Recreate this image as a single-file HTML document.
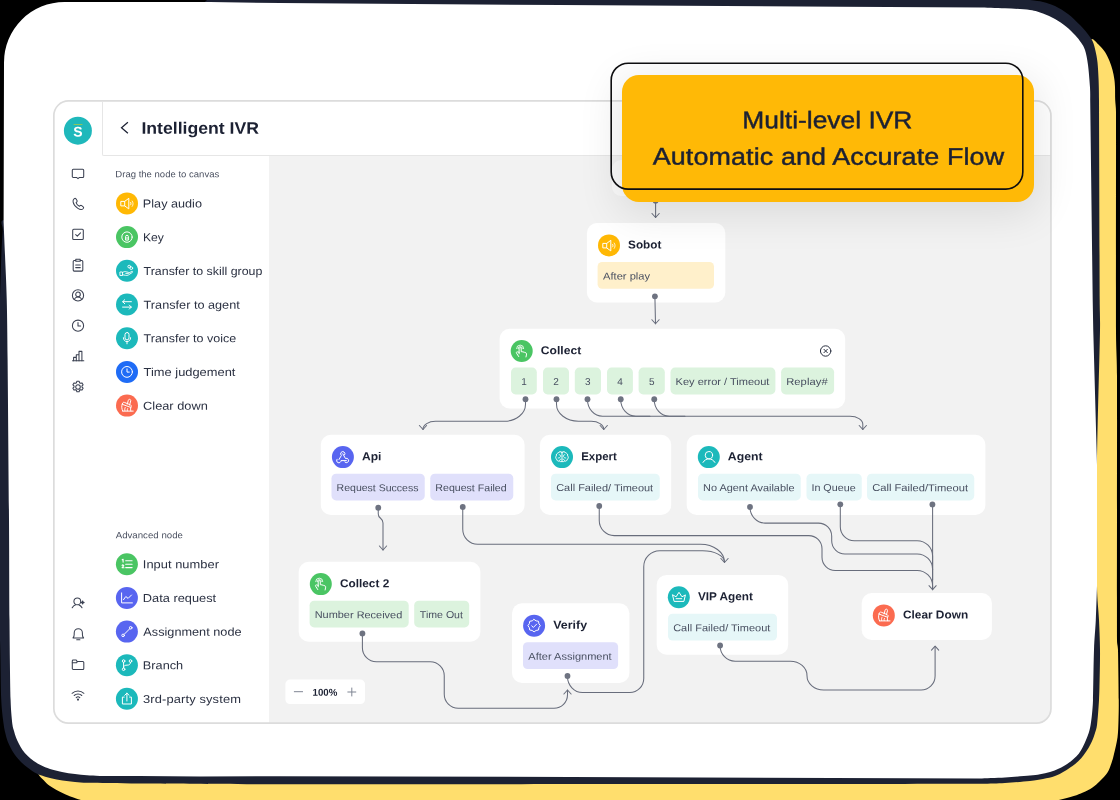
<!DOCTYPE html><html><head><meta charset="utf-8"><title>Intelligent IVR</title><style>html,body{margin:0;padding:0}body{width:1120px;height:800px;background:#000;position:relative;overflow:hidden;font-family:"Liberation Sans",sans-serif}.abs{position:absolute}.node{position:absolute;background:#fff;border-radius:9px}.chip{position:absolute;border-radius:4.500px}.ic{position:absolute;border-radius:50%}</style></head><body><div id="root" style="position:absolute;left:0;top:0;width:1120px;height:800px;will-change:transform">
<svg style="position:absolute;left:0;top:0" width="1120" height="800" viewBox="0 0 1120 800"><path d="M1089 45 C1089.10 41.98 1090.42 39.08 1092 39 C1093.58 38.92 1096.33 42.33 1098.5 44.5 C1100.67 46.67 1103.17 49.25 1105 52 C1106.83 54.75 1108.25 58.00 1109.5 61 C1110.75 64.00 1111.70 67.00 1112.5 70 C1113.30 73.00 1113.88 76.17 1114.3 79 C1114.72 81.83 1114.85 83.50 1115 87 C1115.15 90.50 1115.03 95.83 1115.2 100 C1115.37 104.17 1115.98 106.59 1116 112 C1116.13 150.33 1115.83 286.00 1116 330 C1116.08 350.70 1116.93 355.30 1117 376 C1117.17 427.67 1116.83 594.33 1117 640 C1117.02 644.52 1117.87 645.48 1118 650 C1118.29 660.00 1118.67 688.33 1118.75 700 C1118.81 709.00 1118.71 713.75 1118.5 720 C1118.29 726.25 1118.25 731.83 1117.5 737.5 C1116.75 743.17 1115.00 749.75 1114 754 C1113.04 758.09 1112.58 759.92 1111.5 763 C1110.42 766.08 1109.42 769.50 1107.5 772.5 C1105.58 775.50 1102.50 778.50 1100 781 C1097.50 783.50 1095.33 785.58 1092.5 787.5 C1089.67 789.42 1086.12 791.08 1083 792.5 C1079.88 793.92 1077.79 794.75 1073.75 796 C1069.71 797.25 1064.38 798.83 1058.75 800 C1053.12 801.17 1048.54 802.97 1040 803 C880.21 803.50 259.83 803.50 100 803 C91.34 802.97 85.67 801.00 81 800 C76.83 799.11 75.08 798.17 72 797 C68.92 795.83 66.17 794.83 62.5 793 C58.83 791.17 53.17 788.17 50 786 C46.83 783.83 45.38 781.88 43.5 780 C41.62 778.12 40.00 777.25 38.75 774.75 C37.50 772.25 31.86 766.92 36 765 C62.88 752.54 120.79 705.34 200 700 C360.67 689.17 853.33 750.00 1000 700 C1132.24 654.92 1065.17 509.17 1080 400 C1094.83 290.83 1087.00 105.17 1089 45 Z" fill="#ffde6d"/><path d="M3.4 220 C7.93 218.67 21.26 230.23 30 222 C63.60 190.33 175.83 66.67 205 30 C212.84 20.14 201.67 7.00 205 2 C208.33 -3.00 215.97 0.48 225 0 C240.83 -0.83 266.22 -2.87 300 -3 C429.17 -3.50 878.33 -3.50 1000 -3 C1013.57 -2.94 1022.83 -0.83 1030 0 C1035.88 0.68 1038.83 1.00 1043 2 C1047.17 3.00 1050.83 4.00 1055 6 C1059.17 8.00 1063.83 10.83 1068 14 C1072.17 17.17 1076.83 21.83 1080 25 C1083.17 28.17 1084.92 30.33 1087 33 C1089.08 35.67 1091.08 38.00 1092.5 41 C1093.92 44.00 1094.67 47.42 1095.5 51 C1096.33 54.58 1096.98 57.67 1097.5 62.5 C1098.02 67.33 1098.35 73.75 1098.6 80 C1098.85 86.25 1098.95 91.00 1099 100 C1099.18 136.67 1099.53 261.67 1099.7 300 C1099.76 313.50 1100.22 316.50 1100 330 C1099.55 357.50 1097.50 422.33 1097 465 C1096.50 507.67 1096.67 560.17 1097 586 C1097.20 601.33 1098.50 609.33 1099 620 C1099.50 630.67 1099.90 640.00 1100 650 C1100.10 660.00 1099.77 671.67 1099.6 680 C1099.43 688.33 1099.43 692.50 1099 700 C1098.57 707.50 1097.67 719.50 1097 725 C1096.55 728.68 1095.75 730.50 1095 733 C1094.25 735.50 1093.58 737.50 1092.5 740 C1091.42 742.50 1089.96 745.50 1088.5 748 C1087.04 750.50 1085.42 752.83 1083.75 755 C1082.08 757.17 1080.38 759.17 1078.5 761 C1076.62 762.83 1074.92 764.25 1072.5 766 C1070.08 767.75 1066.92 769.83 1064 771.5 C1061.08 773.17 1058.50 774.75 1055 776 C1051.50 777.25 1047.17 778.17 1043 779 C1038.83 779.83 1035.89 780.38 1030 781 C1023.67 781.67 1013.33 782.54 1005 783 C996.67 783.46 991.26 783.71 980 783.75 C929.17 783.92 816.67 783.92 700 784 C583.33 784.08 373.33 784.28 280 784.2 C217.00 784.14 172.08 783.74 140 783.5 C116.37 783.32 98.33 783.00 87.5 782.75 C81.87 782.62 79.17 782.36 75 782 C70.83 781.64 66.50 781.22 62.5 780.6 C58.50 779.98 54.75 779.23 51 778.3 C47.25 777.37 43.00 776.13 40 775 C37.00 773.87 35.08 772.75 33 771.5 C30.92 770.25 29.50 769.08 27.5 767.5 C25.50 765.92 23.08 764.08 21 762 C18.92 759.92 16.67 757.25 15 755 C13.33 752.75 12.25 750.83 11 748.5 C9.75 746.17 8.45 743.58 7.5 741 C6.55 738.42 5.92 735.67 5.3 733 C4.67 730.33 4.20 728.64 3.75 725 C3.08 719.50 1.77 711.29 1.25 700 C0.67 687.50 0.68 666.67 0.3 650 C-0.08 633.33 -0.91 622.51 -1 600 C-1.22 546.67 -1.17 380.00 -1 330 C-0.95 316.49 -0.33 310.83 0 300 C0.33 289.17 0.70 274.17 1 265 C1.29 256.00 1.50 250.83 1.8 245 C2.10 239.17 2.53 234.17 2.8 230 C3.07 225.83 -0.92 221.27 3.4 220 Z" fill="#1c2133"/><path d="M4 62.500 A60.500 60.500 0 0 1 64.500 2 L210 2 L280 3 L560 5 L840 6.75 L980 7.5  C984.17 7.63 996.67 7.88 1005 8.3 C1013.33 8.72 1023.67 9.13 1030 10 C1036.00 10.82 1038.83 12.00 1043 13.5 C1047.17 15.00 1051.17 16.83 1055 19 C1058.83 21.17 1062.67 23.83 1066 26.5 C1069.33 29.17 1072.50 32.33 1075 35 C1077.50 37.67 1079.33 40.00 1081 42.5 C1082.67 45.00 1083.86 46.35 1085 50 C1086.17 53.75 1087.17 58.75 1088 65 C1088.83 71.25 1089.63 81.67 1090 87.5 C1090.35 93.11 1090.17 97.92 1090.2 100 L1092.7 300 L1093.25 330 L1097 465 L1097 586  C1096.80 591.67 1096.30 609.33 1095.8 620 C1095.30 630.67 1094.47 636.67 1094 650 C1093.53 663.33 1093.33 689.33 1093 700 C1092.80 706.31 1092.40 709.83 1092 714 C1091.60 718.17 1091.15 721.83 1090.6 725 C1090.05 728.17 1089.47 730.50 1088.7 733 C1087.93 735.50 1086.98 737.67 1086 740 C1085.02 742.33 1084.01 744.71 1082.8 747 C1081.59 749.29 1080.30 751.75 1078.75 753.75 C1077.20 755.75 1075.38 757.33 1073.5 759 C1071.62 760.67 1069.92 762.17 1067.5 763.75 C1065.08 765.33 1061.92 767.12 1059 768.5 C1056.08 769.88 1053.17 771.05 1050 772 C1046.83 772.95 1043.33 773.60 1040 774.2 C1036.67 774.80 1034.52 775.17 1030 775.6 C1024.17 776.15 1013.33 777.02 1005 777.5 C996.67 777.98 984.17 778.33 980 778.5 L700 777.4 L280 776.2 L200 776.5 L140 776  C133.33 776.00 108.83 776.12 100 776 C94.14 775.92 91.17 775.63 87 775.3 C82.83 774.97 79.17 774.57 75 774 C70.83 773.43 66.17 772.73 62 771.9 C57.83 771.07 53.50 770.10 50 769 C46.50 767.90 43.71 766.63 41 765.3 C38.29 763.97 36.00 762.58 33.75 761 C31.50 759.42 29.38 757.63 27.5 755.8 C25.62 753.97 23.92 751.97 22.5 750 C21.08 748.03 20.08 746.08 19 744 C17.92 741.92 16.83 739.67 16 737.5 C15.17 735.33 14.58 733.08 14 731 C13.42 728.92 12.80 727.77 12.5 725 C11.93 719.83 10.92 711.28 10.6 700 C10.10 682.50 9.77 650.00 9.5 620 C9.23 590.00 9.32 563.33 9 520 C8.68 476.67 7.97 396.67 7.6 360 C7.32 333.00 7.18 317.50 6.75 300 C6.32 282.50 5.53 268.00 5 255 C4.47 242.00 3.83 227.50 3.6 222 Z" fill="#fff"/></svg>
<div class="abs" style="left:53px;top:100.100px;width:998.800px;height:623.900px;border-radius:15.500px;background:#fff"></div>
<div class="abs" style="left:268.750px;top:155.500px;width:782.500px;height:568px;background:#f2f2f2;border-bottom-right-radius:15px"></div>
<div class="abs" style="left:102.200px;top:101.500px;width:948px;height:53.500px;border-left:1px solid #e6e6e6;border-bottom:1px solid #e6e6e6;border-bottom-left-radius:2px;background:#fff"></div>
<svg class="abs" style="left:0;top:0" width="200" height="200"><circle cx="77.900" cy="130.650" r="14" fill="#1fb8bb"/><rect x="73.600" y="124.100" width="8.800" height=".8" fill="#a9c845"/></svg>
<div style="position:absolute;left:73px;top:123px;font-size:14px;line-height:16.8px;font-weight:700;color:#fff;letter-spacing:0.000px;white-space:pre;transform:translate(0.37px,0.59px) scaleX(1.0000) rotate(0.03deg);transform-origin:0 50%">S</div>

<div style="position:absolute;left:141px;top:118px;font-size:16.6px;line-height:19.92px;font-weight:700;color:#1c2133;letter-spacing:0.000px;white-space:pre;transform:translate(0.38px,0.73px) scaleX(1.0636) rotate(0.03deg);transform-origin:0 50%">Intelligent IVR</div>












<div style="position:absolute;left:115px;top:169px;font-size:9.2px;line-height:11.04px;font-weight:400;color:#4a5060;letter-spacing:0.000px;white-space:pre;transform:translate(0.35px,0.31px) scaleX(1.0377) rotate(0.03deg);transform-origin:0 50%">Drag the node to canvas</div>

<div style="position:absolute;left:142px;top:197px;font-size:11.5px;line-height:13.8px;font-weight:400;color:#2b3142;letter-spacing:0.000px;white-space:pre;transform:translate(0.87px,0.53px) scaleX(1.1006) rotate(0.03deg);transform-origin:0 50%">Play audio</div>

<div style="position:absolute;left:142px;top:231px;font-size:11.5px;line-height:13.8px;font-weight:400;color:#2b3142;letter-spacing:0.000px;white-space:pre;transform:translate(0.91px,0.23px) scaleX(1.0553) rotate(0.03deg);transform-origin:0 50%">Key</div>

<div style="position:absolute;left:143px;top:264px;font-size:11.5px;line-height:13.8px;font-weight:400;color:#2b3142;letter-spacing:0.000px;white-space:pre;transform:translate(0.59px,0.93px) scaleX(1.0783) rotate(0.03deg);transform-origin:0 50%">Transfer to skill group</div>

<div style="position:absolute;left:143px;top:298px;font-size:11.5px;line-height:13.8px;font-weight:400;color:#2b3142;letter-spacing:0.000px;white-space:pre;transform:translate(0.58px,0.63px) scaleX(1.1036) rotate(0.03deg);transform-origin:0 50%">Transfer to agent</div>

<div style="position:absolute;left:143px;top:332px;font-size:11.5px;line-height:13.8px;font-weight:400;color:#2b3142;letter-spacing:0.000px;white-space:pre;transform:translate(0.59px,0.33px) scaleX(1.0861) rotate(0.03deg);transform-origin:0 50%">Transfer to voice</div>

<div style="position:absolute;left:143px;top:366px;font-size:11.5px;line-height:13.8px;font-weight:400;color:#2b3142;letter-spacing:0.000px;white-space:pre;transform:translate(0.58px,0.03px) scaleX(1.1193) rotate(0.03deg);transform-origin:0 50%">Time judgement</div>

<div style="position:absolute;left:143px;top:399px;font-size:11.5px;line-height:13.8px;font-weight:400;color:#2b3142;letter-spacing:0.000px;white-space:pre;transform:translate(0.05px,0.73px) scaleX(1.1124) rotate(0.03deg);transform-origin:0 50%">Clear down</div>
<div style="position:absolute;left:115px;top:530px;font-size:9.2px;line-height:11.04px;font-weight:400;color:#4a5060;letter-spacing:0.000px;white-space:pre;transform:translate(0.68px,0.31px) scaleX(1.0528) rotate(0.03deg);transform-origin:0 50%">Advanced node</div>

<div style="position:absolute;left:142px;top:558px;font-size:11.5px;line-height:13.8px;font-weight:400;color:#2b3142;letter-spacing:0.026px;white-space:pre;transform:translate(0.78px,0.33px) scaleX(1.1200) rotate(0.03deg);transform-origin:0 50%">Input number</div>

<div style="position:absolute;left:142px;top:592px;font-size:11.5px;line-height:13.8px;font-weight:400;color:#2b3142;letter-spacing:0.000px;white-space:pre;transform:translate(0.85px,0.03px) scaleX(1.1137) rotate(0.03deg);transform-origin:0 50%">Data request</div>

<div style="position:absolute;left:143px;top:625px;font-size:11.5px;line-height:13.8px;font-weight:400;color:#2b3142;letter-spacing:0.000px;white-space:pre;transform:translate(0.29px,0.73px) scaleX(1.1058) rotate(0.03deg);transform-origin:0 50%">Assignment node</div>

<div style="position:absolute;left:142px;top:659px;font-size:11.5px;line-height:13.8px;font-weight:400;color:#2b3142;letter-spacing:0.000px;white-space:pre;transform:translate(0.86px,0.28px) scaleX(1.1066) rotate(0.03deg);transform-origin:0 50%">Branch</div>

<div style="position:absolute;left:143px;top:692px;font-size:11.5px;line-height:13.8px;font-weight:400;color:#2b3142;letter-spacing:0.115px;white-space:pre;transform:translate(0.07px,0.93px) scaleX(1.1200) rotate(0.03deg);transform-origin:0 50%">3rd-party system</div>
<svg class="abs" style="left:0;top:0" width="1120" height="800" viewBox="0 0 1120 800"><rect x="612" y="160" width="90" height="36" rx="9" fill="#fafafa"/><rect x="586.9" y="223.1" width="138.4" height="79.4" rx="10" fill="#fff"/><rect x="597.6" y="261.95" width="116.4" height="26.800" rx="4.600" fill="#fff0cb"/><rect x="499.6" y="328.75" width="345.55" height="79.65" rx="10" fill="#fff"/><rect x="511" y="367.6" width="25.8" height="26.800" rx="4.600" fill="#dcf3de"/><rect x="543" y="367.6" width="26" height="26.800" rx="4.600" fill="#dcf3de"/><rect x="574.8" y="367.6" width="26.2" height="26.800" rx="4.600" fill="#dcf3de"/><rect x="607" y="367.6" width="25.9" height="26.800" rx="4.600" fill="#dcf3de"/><rect x="638.6" y="367.6" width="26.2" height="26.800" rx="4.600" fill="#dcf3de"/><rect x="670.5" y="367.6" width="104.9" height="26.800" rx="4.600" fill="#dcf3de"/><rect x="781.1" y="367.6" width="53" height="26.800" rx="4.600" fill="#dcf3de"/><rect x="320.8" y="434.8" width="203.8" height="80.1" rx="10" fill="#fff"/><rect x="331.5" y="473.65" width="93.25" height="26.800" rx="4.600" fill="#e0e0fb"/><rect x="430.25" y="473.65" width="83" height="26.800" rx="4.600" fill="#e0e0fb"/><rect x="539.9" y="434.8" width="131.3" height="80.1" rx="10" fill="#fff"/><rect x="551" y="473.65" width="108.75" height="26.800" rx="4.600" fill="#e6f7f8"/><rect x="686.7" y="434.8" width="298.7" height="80.1" rx="10" fill="#fff"/><rect x="698" y="473.65" width="102.75" height="26.800" rx="4.600" fill="#e6f7f8"/><rect x="806.5" y="473.65" width="55.25" height="26.800" rx="4.600" fill="#e6f7f8"/><rect x="867" y="473.65" width="107.25" height="26.800" rx="4.600" fill="#e6f7f8"/><rect x="298.7" y="561.8" width="181.7" height="79.9" rx="10" fill="#fff"/><rect x="309.6" y="600.65" width="99.1" height="26.800" rx="4.600" fill="#dcf3de"/><rect x="414.2" y="600.65" width="55" height="26.800" rx="4.600" fill="#dcf3de"/><rect x="512" y="603.35" width="117.4" height="79.6" rx="10" fill="#fff"/><rect x="523" y="642.2" width="95.1" height="26.800" rx="4.600" fill="#e0e0fb"/><rect x="656.7" y="574.9" width="131.5" height="79.8" rx="10" fill="#fff"/><rect x="668" y="613.75" width="109" height="26.800" rx="4.600" fill="#e6f7f8"/><rect x="861.7" y="593.1" width="130.2" height="46.9" rx="10" fill="#fff"/><rect x="285.400" y="679.600" width="79.600" height="24.500" rx="4.500" fill="#fff"/></svg>

<div style="position:absolute;left:628px;top:238px;font-size:11.5px;line-height:13.8px;font-weight:700;color:#1c2133;letter-spacing:0.000px;white-space:pre;transform:translate(0.07px,0.51px) scaleX(1.0211) rotate(0.03deg);transform-origin:0 50%">Sobot</div>
<div style="position:absolute;left:603px;top:270px;font-size:10px;line-height:12.0px;font-weight:400;color:#484f60;letter-spacing:0.000px;white-space:pre;transform:translate(0.06px,0.41px) scaleX(1.1132) rotate(0.03deg);transform-origin:0 50%">After play</div>

<div style="position:absolute;left:540px;top:344px;font-size:11.5px;line-height:13.8px;font-weight:700;color:#1c2133;letter-spacing:0.000px;white-space:pre;transform:translate(0.83px,0.16px) scaleX(1.0529) rotate(0.03deg);transform-origin:0 50%">Collect</div>
<div style="position:absolute;left:521px;top:376px;font-size:10px;line-height:12.0px;font-weight:400;color:#484f60;letter-spacing:0.000px;white-space:pre;transform:translate(0.35px,0.06px) scaleX(1.0000) rotate(0.03deg);transform-origin:0 50%">1</div>
<div style="position:absolute;left:553px;top:376px;font-size:10px;line-height:12.0px;font-weight:400;color:#484f60;letter-spacing:0.000px;white-space:pre;transform:translate(0.14px,0.06px) scaleX(1.0000) rotate(0.03deg);transform-origin:0 50%">2</div>
<div style="position:absolute;left:585px;top:376px;font-size:10px;line-height:12.0px;font-weight:400;color:#484f60;letter-spacing:0.000px;white-space:pre;transform:translate(0.09px,0.06px) scaleX(1.0000) rotate(0.03deg);transform-origin:0 50%">3</div>
<div style="position:absolute;left:617px;top:376px;font-size:10px;line-height:12.0px;font-weight:400;color:#484f60;letter-spacing:0.000px;white-space:pre;transform:translate(0.17px,0.06px) scaleX(1.0000) rotate(0.03deg);transform-origin:0 50%">4</div>
<div style="position:absolute;left:648px;top:376px;font-size:10px;line-height:12.0px;font-weight:400;color:#484f60;letter-spacing:0.000px;white-space:pre;transform:translate(0.90px,0.06px) scaleX(1.0000) rotate(0.03deg);transform-origin:0 50%">5</div>
<div style="position:absolute;left:675px;top:376px;font-size:10px;line-height:12.0px;font-weight:400;color:#484f60;letter-spacing:0.000px;white-space:pre;transform:translate(0.55px,0.06px) scaleX(1.1041) rotate(0.03deg);transform-origin:0 50%">Key error / Timeout</div>
<div style="position:absolute;left:786px;top:376px;font-size:10px;line-height:12.0px;font-weight:400;color:#484f60;letter-spacing:0.069px;white-space:pre;transform:translate(0.13px,0.06px) scaleX(1.1200) rotate(0.03deg);transform-origin:0 50%">Replay#</div>

<div style="position:absolute;left:361px;top:450px;font-size:11.5px;line-height:13.8px;font-weight:700;color:#1c2133;letter-spacing:0.000px;white-space:pre;transform:translate(0.98px,0.21px) scaleX(1.0498) rotate(0.03deg);transform-origin:0 50%">Api</div>
<div style="position:absolute;left:336px;top:482px;font-size:10px;line-height:12.0px;font-weight:400;color:#484f60;letter-spacing:0.000px;white-space:pre;transform:translate(0.58px,0.11px) scaleX(1.0524) rotate(0.03deg);transform-origin:0 50%">Request Success</div>
<div style="position:absolute;left:435px;top:482px;font-size:10px;line-height:12.0px;font-weight:400;color:#484f60;letter-spacing:0.000px;white-space:pre;transform:translate(0.33px,0.11px) scaleX(1.0601) rotate(0.03deg);transform-origin:0 50%">Request Failed</div>

<div style="position:absolute;left:581px;top:450px;font-size:11.5px;line-height:13.8px;font-weight:700;color:#1c2133;letter-spacing:0.000px;white-space:pre;transform:translate(0.14px,0.21px) scaleX(0.9952) rotate(0.03deg);transform-origin:0 50%">Expert</div>
<div style="position:absolute;left:556px;top:482px;font-size:10px;line-height:12.0px;font-weight:400;color:#484f60;letter-spacing:0.000px;white-space:pre;transform:translate(0.18px,0.11px) scaleX(1.0971) rotate(0.03deg);transform-origin:0 50%">Call Failed/ Timeout</div>

<div style="position:absolute;left:727px;top:450px;font-size:11.5px;line-height:13.8px;font-weight:700;color:#1c2133;letter-spacing:0.000px;white-space:pre;transform:translate(0.86px,0.21px) scaleX(1.0663) rotate(0.03deg);transform-origin:0 50%">Agent</div>
<div style="position:absolute;left:703px;top:482px;font-size:10px;line-height:12.0px;font-weight:400;color:#484f60;letter-spacing:0.000px;white-space:pre;transform:translate(0.07px,0.11px) scaleX(1.0914) rotate(0.03deg);transform-origin:0 50%">No Agent Available</div>
<div style="position:absolute;left:811px;top:482px;font-size:10px;line-height:12.0px;font-weight:400;color:#484f60;letter-spacing:0.000px;white-space:pre;transform:translate(0.40px,0.11px) scaleX(1.0748) rotate(0.03deg);transform-origin:0 50%">In Queue</div>
<div style="position:absolute;left:872px;top:482px;font-size:10px;line-height:12.0px;font-weight:400;color:#484f60;letter-spacing:0.000px;white-space:pre;transform:translate(0.16px,0.11px) scaleX(1.1177) rotate(0.03deg);transform-origin:0 50%">Call Failed/Timeout</div>

<div style="position:absolute;left:339px;top:577px;font-size:11.5px;line-height:13.8px;font-weight:700;color:#1c2133;letter-spacing:0.000px;white-space:pre;transform:translate(0.95px,0.21px) scaleX(1.0285) rotate(0.03deg);transform-origin:0 50%">Collect 2</div>
<div style="position:absolute;left:314px;top:609px;font-size:10px;line-height:12.0px;font-weight:400;color:#484f60;letter-spacing:0.000px;white-space:pre;transform:translate(0.67px,0.11px) scaleX(1.0942) rotate(0.03deg);transform-origin:0 50%">Number Received</div>
<div style="position:absolute;left:419px;top:609px;font-size:10px;line-height:12.0px;font-weight:400;color:#484f60;letter-spacing:0.000px;white-space:pre;transform:translate(0.86px,0.11px) scaleX(1.0568) rotate(0.03deg);transform-origin:0 50%">Time Out</div>

<div style="position:absolute;left:553px;top:618px;font-size:11.5px;line-height:13.8px;font-weight:700;color:#1c2133;letter-spacing:-0.000px;white-space:pre;transform:translate(0.24px,0.76px) scaleX(1.0811) rotate(0.03deg);transform-origin:0 50%">Verify</div>
<div style="position:absolute;left:528px;top:650px;font-size:10px;line-height:12.0px;font-weight:400;color:#484f60;letter-spacing:0.000px;white-space:pre;transform:translate(0.36px,0.66px) scaleX(1.1023) rotate(0.03deg);transform-origin:0 50%">After Assignment</div>

<div style="position:absolute;left:697px;top:590px;font-size:11.5px;line-height:13.8px;font-weight:700;color:#1c2133;letter-spacing:0.000px;white-space:pre;transform:translate(0.98px,0.31px) scaleX(1.0239) rotate(0.03deg);transform-origin:0 50%">VIP Agent</div>
<div style="position:absolute;left:673px;top:622px;font-size:10px;line-height:12.0px;font-weight:400;color:#484f60;letter-spacing:0.000px;white-space:pre;transform:translate(0.18px,0.21px) scaleX(1.1000) rotate(0.03deg);transform-origin:0 50%">Call Failed/ Timeout</div>

<div style="position:absolute;left:902px;top:608px;font-size:11.5px;line-height:13.8px;font-weight:700;color:#1c2133;letter-spacing:0.000px;white-space:pre;transform:translate(0.94px,0.51px) scaleX(1.0304) rotate(0.03deg);transform-origin:0 50%">Clear Down</div>



<div style="position:absolute;left:312px;top:686px;font-size:10px;line-height:12.0px;font-weight:700;color:#1c2133;letter-spacing:0.000px;white-space:pre;transform:translate(0.57px,0.84px) scaleX(0.9678) rotate(0.03deg);transform-origin:0 50%">100%</div>
<svg class="abs" style="left:0;top:0" width="1120" height="800" viewBox="0 0 1120 800"><g fill="none" stroke="#686d7c" stroke-width="1.050" stroke-linecap="round" stroke-linejoin="round"><path d="M655.600 200 V217.500"/><path d="M652 213.5 L655.6 217.5 L659.2 213.5"/><path d="M654.900 296.300 L655.500 323.700"/><path d="M651.9 319.75 L655.5 323.75 L659.1 319.75"/><path d="M525.5 399.25 L525.5 404.25 A21 17 0 0 1 504.5 421.25 L435.5 421.25 A12.5 8 0 0 0 423 429.25 L423 429.5"/><path d="M419.4 425.5 L423 429.5 L426.6 425.5"/><path d="M556.5 399.25 L556.5 404.25 A22 17 0 0 0 578.5 421.25 L591.25 421.25 A12.5 8 0 0 1 603.75 429.25 L603.75 429.5"/><path d="M600.15 425.5 L603.75 429.5 L607.35 425.5"/><path d="M587.5 399.25 L587.5 399.8 A15 16.5 0 0 0 602.5 416.3 L850 416.3 A12.8 8 0 0 1 862.8 424.3 L862.8 429.5"/><path d="M859.2 425.5 L862.8 429.5 L866.4 425.5"/><path d="M620.75 399.25 L620.75 399.8 A15 16.5 0 0 0 635.75 416.3 L650 416.3"/><path d="M654.25 399.25 L654.25 399.8 A15 16.5 0 0 0 669.25 416.3 L685 416.3"/><path d="M378.250 508 V514 C378.250 519 383 517.500 383 523 V550"/><path d="M379.4 546 L383 550 L386.6 546"/><path d="M462.75 507 L462.75 529.25 A15 15 0 0 0 477.75 544.25 L700.5 544.25 A24 18 0 0 1 724.5 562.25 L724.5 562.5"/><path d="M720.9 558.5 L724.5 562.5 L728.1 558.5"/><path d="M567.5 676.25 L567.5 676.5 A15 16 0 0 0 582.5 692.5 L629.75 692.5 A14 14 0 0 0 643.75 678.5 L643.75 566.75 A16 16 0 0 1 659.75 550.75 L702.5 550.75 A22 11.5 0 0 1 724.5 562.25 L724.5 562.5"/><path d="M599.25 506 L599.25 520.6 A15 15 0 0 0 614.25 535.6 L808.8 535.6 A13.2 13.2 0 0 1 822 548.8 L822 557.2 A13.2 13.2 0 0 0 835.2 570.4 L917.1 570.4 A15.5 15.5 0 0 1 932.6 585.9 L932.6 589"/><path d="M750 507 L750 507.1 A15 16 0 0 0 765 523.1 L818.5 523.1 A13.2 13.2 0 0 1 831.7 536.3 L831.7 540.7 A13.2 13.2 0 0 0 844.9 553.9 L917.1 553.9 A15.5 15.5 0 0 1 932.6 569.4 L932.6 580"/><path d="M840.3 504.3 L840.3 526.7 A14 14 0 0 0 854.3 540.7 L917.1 540.7 A15.5 15.5 0 0 1 932.6 556.2 L932.6 570"/><path d="M932.600 504.300 V589.700"/><path d="M929 585.7 L932.6 589.7 L936.2 585.7"/><path d="M362.4 633.4 L362.4 647.75 A14 14 0 0 0 376.4 661.75 L430.25 661.75 A14 14 0 0 1 444.25 675.75 L444.25 694.25 A14 14 0 0 0 458.25 708.25 L554 708.25 A13.5 13.5 0 0 0 567.5 694.75 L567.5 690"/><path d="M563.9 694 L567.5 690 L571.1 694"/><path d="M720.1 645.5 L720.1 645.75 A15 15.5 0 0 0 735.1 661.25 L790.3 661.25 A16.7 14.375 0 0 1 807 675.625 L807 675.625 A16.7 14.375 0 0 0 823.7 690 L921.1 690 A14 14 0 0 0 935.1 676 L935.1 646.2"/><path d="M931.5 650.2 L935.1 646.2 L938.7 650.2"/></g><g fill="#6e7381"><circle cx="655.6" cy="200.7" r="2.900"/><circle cx="654.9" cy="296.3" r="2.900"/><circle cx="525.5" cy="399.25" r="2.900"/><circle cx="556.5" cy="399.25" r="2.900"/><circle cx="587.5" cy="399.25" r="2.900"/><circle cx="620.75" cy="399.25" r="2.900"/><circle cx="654.25" cy="399.25" r="2.900"/><circle cx="378.25" cy="507.75" r="2.900"/><circle cx="462.75" cy="507" r="2.900"/><circle cx="599.25" cy="506" r="2.900"/><circle cx="750" cy="507" r="2.900"/><circle cx="840.3" cy="504.3" r="2.900"/><circle cx="932.4" cy="504.4" r="2.900"/><circle cx="362.4" cy="633.4" r="2.900"/><circle cx="567.5" cy="676" r="2.900"/><circle cx="720.1" cy="645.5" r="2.900"/></g></svg>
<svg class="abs" style="left:0;top:0" width="1120" height="800" viewBox="0 0 1120 800"><g transform="translate(118 120)"><path d="M9.900 2.200L3.500 7.700l6.400 5.600" fill="none" stroke="#1c2133" stroke-width="1.250" stroke-linejoin="miter"/></g><g transform="translate(70 165.7)"><g fill="none" stroke="#3b4152" stroke-width="1.050" stroke-linecap="round" stroke-linejoin="round"><path d="M3.300 3.500h9.400c.6 0 1 .4 1 1v6.200c0 .6-.4 1-1 1H9.500L8 13l-1.500-1.300H3.300c-.6 0-1-.4-1-1V4.500c0-.6.400-1 1-1z"/></g></g><g transform="translate(70 196)"><g fill="none" stroke="#3b4152" stroke-width="1.050" stroke-linecap="round" stroke-linejoin="round"><path d="M4.300 2.600c.5-.4 1.200-.3 1.600.2l1.100 1.700c.3.500.2 1.100-.2 1.500l-.7.600c.4 1.300 1.700 2.900 3.300 3.700l.7-.6c.5-.4 1.100-.4 1.600 0l1.500 1.200c.5.400.5 1.100.1 1.600-1.300 1.400-3.400 1.200-5.400-.1C5.500 10.800 3.600 8.500 3.100 6 2.800 4.600 3.300 3.400 4.300 2.600z"/></g></g><g transform="translate(70 226.4)"><g fill="none" stroke="#3b4152" stroke-width="1.050" stroke-linecap="round" stroke-linejoin="round"><rect x="2.700" y="2.900" width="10.600" height="10.200" rx="1"/><path d="M5.700 8.200l1.600 1.500 3.200-3.200"/></g></g><g transform="translate(70 257)"><g fill="none" stroke="#3b4152" stroke-width="1.050" stroke-linecap="round" stroke-linejoin="round"><path d="M5.600 3.500H4.200c-.6 0-1 .4-1 1v8.600c0 .6.400 1 1 1h7.600c.6 0 1-.4 1-1V4.500c0-.6-.4-1-1-1h-1.400"/><path d="M5.800 2.300h4.400v2H5.800z"/><path d="M5.700 8h4.600M5.700 10.600h4.600"/></g></g><g transform="translate(70 287.4)"><g fill="none" stroke="#3b4152" stroke-width="1.050" stroke-linecap="round" stroke-linejoin="round"><circle cx="8" cy="8" r="5.600"/><circle cx="8" cy="7" r="2.300"/><path d="M4.200 12c.7-1.500 2.100-2.400 3.800-2.400s3.100.9 3.800 2.400"/></g></g><g transform="translate(70 317.7)"><g fill="none" stroke="#3b4152" stroke-width="1.050" stroke-linecap="round" stroke-linejoin="round"><circle cx="8" cy="8" r="5.600"/><path d="M8 4.900V8.300h2.600"/></g></g><g transform="translate(70 347.8)"><g fill="none" stroke="#3b4152" stroke-width="1.050" stroke-linecap="round" stroke-linejoin="round"><path d="M2.500 13h11.300"/><path d="M3.600 13V9.600h2.700V13M6.300 13V7h2.700v6M9 13V3.600h2.900V13"/></g></g><g transform="translate(70 379)"><g fill="none" stroke="#3b4152" stroke-width="1.050" stroke-linecap="round" stroke-linejoin="round"><circle cx="8" cy="8" r="2.300"/><path d="M6.900 2.200h2.200l.4 1.500 1 .6 1.500-.4 1.100 1.900-1.100 1.100v1.200l1.100 1.100-1.100 1.900-1.500-.4-1 .6-.4 1.500H6.900l-.4-1.500-1-.6-1.500.4-1.100-1.900L4 8.100V6.900L2.900 5.800 4 3.900l1.500.4 1-.6z"/></g></g><g transform="translate(70 595)"><g fill="none" stroke="#3b4152" stroke-width="1.050" stroke-linecap="round" stroke-linejoin="round"><circle cx="7.300" cy="6.400" r="3.400"/><path d="M2.200 12.800c.8-1.600 2.300-2.700 3.500-3M12 12.800c-.7-1.500-2-2.600-3.100-2.900"/><path d="M12.600 6.200v2.600M11.300 7.500h2.600" stroke-width="1.500"/></g></g><g transform="translate(70 626)"><g fill="none" stroke="#3b4152" stroke-width="1.050" stroke-linecap="round" stroke-linejoin="round"><path d="M3 11.900h10.600c-.9-1-1.200-2.300-1.200-3.500V7c0-2.400-1.800-4.300-4.100-4.300S4.200 4.600 4.200 7v1.400c0 1.200-.3 2.500-1.200 3.500z"/><path d="M6.700 13.700h3.200"/></g></g><g transform="translate(70 656.7)"><g fill="none" stroke="#3b4152" stroke-width="1.050" stroke-linecap="round" stroke-linejoin="round"><path d="M2.300 4.200c0-.5.400-.9.900-.9h3l1 1.500h5.600c.6 0 1 .4 1 1v5.900c0 .6-.4 1-1 1H3.300c-.6 0-1-.4-1-1z"/><path d="M2.300 6.100h4.400l.6-1.300"/></g></g><g transform="translate(70 687)"><g fill="none" stroke="#3b4152" stroke-width="1.050" stroke-linecap="round" stroke-linejoin="round"><path d="M2.100 6.300c3.300-3.200 8.500-3.200 11.800 0M4.200 8.500c2.100-2 5.500-2 7.600 0M6.200 10.600c1-1 2.600-1 3.600 0"/><circle cx="8" cy="12.600" r=".55" fill="#3b4152"/></g></g><g transform="translate(116 192.4)"><circle cx="11" cy="11" r="11" fill="#ffb804"/><g fill="none" stroke="#fff" stroke-width="1" stroke-linecap="round" stroke-linejoin="round"><path d="M5.200 9h3.500v4.500H5.200z"/><path d="M8.700 9l4.100-3.100v10.600l-4.100-3"/><path d="M14.600 9.900c.55.700.55 1.900 0 2.600"/><path d="M16.200 8.600c1.200 1.600 1.200 3.800 0 5.400" opacity=".8"/></g></g><g transform="translate(116 226.1)"><circle cx="11" cy="11" r="11" fill="#4ac563"/><g fill="none" stroke="#fff" stroke-width="1" stroke-linecap="round" stroke-linejoin="round"><circle cx="11" cy="11" r="5.200"/><path d="M9.600 13.600v-3a1.400 1.400 0 0 1 2.800 0v3z"/><path d="M11 11.400v1"/></g></g><g transform="translate(116 259.8)"><circle cx="11" cy="11" r="11" fill="#1cb9bb"/><g fill="none" stroke="#fff" stroke-width="1" stroke-linecap="round" stroke-linejoin="round"><g stroke-width=".9"><path d="M4.300 12.200h2.200v3.500H4.300z"/><path d="M6.500 12.700c1.300-.900 2.500-1.200 3.700-.700l2.200.500c.700.200.600 1.100-.1 1.100H9.800"/><path d="M12.900 13.200l2.900-1.600c.700-.300 1.200.500.600 1l-4 2.600c-1 .500-2 .500-3 .300l-2.900-.500"/><circle cx="13.200" cy="6.800" r="1.350"/><circle cx="15.300" cy="8.400" r="1.350"/></g></g></g><g transform="translate(116 293.5)"><circle cx="11" cy="11" r="11" fill="#1cb9bb"/><g fill="none" stroke="#fff" stroke-width="1" stroke-linecap="round" stroke-linejoin="round"><path d="M15.400 8.200H6.700M8.700 6.200l-2 2 2 2"/><path d="M6.600 13.600h8.700M13.300 11.600l2 2-2 2"/></g></g><g transform="translate(116 327.2)"><circle cx="11" cy="11" r="11" fill="#1cb9bb"/><g fill="none" stroke="#fff" stroke-width="1" stroke-linecap="round" stroke-linejoin="round"><rect x="9" y="5.300" width="4" height="7.400" rx="2"/><path d="M7.400 10.500c0 2.400 1.600 3.900 3.600 3.900s3.600-1.500 3.600-3.900"/><path d="M11 14.400v2.200"/></g></g><g transform="translate(116 360.9)"><circle cx="11" cy="11" r="11" fill="#1f6cf6"/><g fill="none" stroke="#fff" stroke-width="1" stroke-linecap="round" stroke-linejoin="round"><circle cx="11" cy="11" r="5.400"/><path d="M11 8v3.200h2.300"/></g></g><g transform="translate(116 394.6)"><circle cx="11" cy="11" r="11" fill="#fb6b50"/><g fill="none" stroke="#fff" stroke-width="1" stroke-linecap="round" stroke-linejoin="round"><path d="M11.300 9.500l1-3.800c.200-.900 1.300-1.300 2-.700.400.300.600.800.400 1.300l-1.100 4.200"/><path d="M6.300 9.300l.4-.9c.300-.600 1-.900 1.700-.600l6.100 2.500c.600.300.900.900.700 1.500l-.2.700z"/><path d="M6.300 9.300c-.800 2.100-.800 4.500.4 7.100M14.900 12.600c-.4 1.200-.5 2.500-.1 3.800"/><path d="M8.900 16.200c-.3-1.200-.2-2.300.3-3.400M11.300 16.200c-.1-.8 0-1.500.3-2.200" stroke-width=".9"/><path d="M6.700 16.500h10.500"/></g></g><g transform="translate(115.9 553.2)"><circle cx="11" cy="11" r="11" fill="#4ac563"/><g fill="none" stroke="#fff" stroke-width="1" stroke-linecap="round" stroke-linejoin="round"><path d="M9.800 7.600h6.400M9.800 11h6.400M9.800 14.400h6.400" stroke-width="1.100"/><path d="M6.300 6.600l.9-.5v2.800M6.200 12.300c.2-.8 1.700-.8 1.600.2-.1.600-1.500 1.500-1.600 2h1.900" stroke-width="1.100"/></g></g><g transform="translate(115.9 586.9)"><circle cx="11" cy="11" r="11" fill="#5865f0"/><g fill="none" stroke="#fff" stroke-width="1" stroke-linecap="round" stroke-linejoin="round"><path d="M5.700 6v10h10.800"/><path d="M7.600 12.800l2.300-3.200 2.300 1.900 3.400-3.400"/></g></g><g transform="translate(115.9 620.6)"><circle cx="11" cy="11" r="11" fill="#5865f0"/><g fill="none" stroke="#fff" stroke-width="1" stroke-linecap="round" stroke-linejoin="round"><circle cx="7.200" cy="14.800" r="1.300"/><circle cx="14.800" cy="7.200" r="1.300"/><path d="M8.200 13.800l5.600-5.600"/></g></g><g transform="translate(115.9 654.15)"><circle cx="11" cy="11" r="11" fill="#1cb9bb"/><g fill="none" stroke="#fff" stroke-width="1" stroke-linecap="round" stroke-linejoin="round"><circle cx="7.700" cy="6.900" r="1.300"/><circle cx="7.700" cy="15.100" r="1.300"/><circle cx="14.600" cy="6.900" r="1.300"/><path d="M7.700 8.200v5.600"/><path d="M14.600 8.200c0 2.300-1.600 2.800-3.400 2.800s-3.500.200-3.500 2.300"/></g></g><g transform="translate(115.9 687.8)"><circle cx="11" cy="11" r="11" fill="#1cb9bb"/><g fill="none" stroke="#fff" stroke-width="1" stroke-linecap="round" stroke-linejoin="round"><path d="M8.300 9.300H6.500v6.900h9V9.300h-1.800"/><path d="M11 13.200V5.400M8.800 7.500L11 5.300l2.200 2.200"/></g></g><g transform="translate(598 234.4)"><circle cx="11" cy="11" r="11" fill="#ffb804"/><g fill="none" stroke="#fff" stroke-width="1" stroke-linecap="round" stroke-linejoin="round"><path d="M5.200 9h3.500v4.500H5.200z"/><path d="M8.700 9l4.100-3.100v10.600l-4.100-3"/><path d="M14.600 9.900c.55.700.55 1.900 0 2.600"/><path d="M16.200 8.600c1.200 1.600 1.200 3.800 0 5.400" opacity=".8"/></g></g><g transform="translate(510.7 340.05)"><circle cx="11" cy="11" r="11" fill="#4ac563"/><g fill="none" stroke="#fff" stroke-width="1" stroke-linecap="round" stroke-linejoin="round"><path d="M8.400 13.800V8.600a1.050 1.050 0 0 1 2.100 0v3l1.700.2 1.700.5 1.400.6c.5.200.7.600.6 1.100l-.600 2.900"/><path d="M8.400 12.300l-1.700-.500c-.8-.2-1.400.600-.9 1.300l2.200 3.400"/><path d="M5.900 8.600a3.550 3.550 0 0 1 7.100 0" stroke-width=".85"/><path d="M7.400 8.600a2.050 2.050 0 0 1 4.100 0" stroke-width=".85"/></g></g><g transform="translate(331.9 446.1)"><circle cx="11" cy="11" r="11" fill="#5865f0"/><g fill="none" stroke="#fff" stroke-width="1" stroke-linecap="round" stroke-linejoin="round"><path d="M12.800 8.700a2.150 2.150 0 1 0-3.300.600L7.100 13.400"/><path d="M5.200 13.100a2.200 2.200 0 1 0 3.900 1.400h5.400"/><path d="M10.900 7.700l2.700 4.700a2.200 2.200 0 1 1-.700 3.500"/></g></g><g transform="translate(551 446.1)"><circle cx="11" cy="11" r="11" fill="#1cb9bb"/><g fill="none" stroke="#fff" stroke-width="1" stroke-linecap="round" stroke-linejoin="round"><path d="M11 6.200c-1.200-1.100-3.200-.700-3.700.700-1.500.200-2.400 1.600-1.900 2.900-1 .900-.900 2.400.2 3.200.100 1.500 1.500 2.400 2.900 2 .700.700 1.800.700 2.500.100.700.600 1.800.600 2.500-.100 1.400.400 2.800-.500 2.900-2 1.100-.800 1.200-2.300.2-3.200.500-1.300-.400-2.700-1.900-2.900-.500-1.400-2.500-1.800-3.700-.700z"/><path d="M11 6.200v9.500"/><path d="M8.200 8.600c1 0 1.600.700 1.500 1.600M7.200 11.900c1 .100 1.700-.300 2.100-1M13.800 8.600c-1 0-1.600.7-1.500 1.600M14.800 11.900c-1 .1-1.700-.3-2.100-1M8.400 14.300c.2-.8.800-1.200 1.500-1.200M13.600 14.300c-.2-.8-.8-1.200-1.500-1.200" stroke-width=".9"/></g></g><g transform="translate(697.8 446.1)"><circle cx="11" cy="11" r="11" fill="#1cb9bb"/><g fill="none" stroke="#fff" stroke-width="1" stroke-linecap="round" stroke-linejoin="round"><circle cx="11.100" cy="9.100" r="3.700"/><path d="M5.200 16.300c1.400-2.300 3.400-3.500 5.900-3.500s4.600 1.200 6 3.500"/></g></g><g transform="translate(309.8 573.1)"><circle cx="11" cy="11" r="11" fill="#4ac563"/><g fill="none" stroke="#fff" stroke-width="1" stroke-linecap="round" stroke-linejoin="round"><path d="M8.400 13.800V8.600a1.050 1.050 0 0 1 2.100 0v3l1.700.2 1.700.5 1.400.6c.5.200.7.600.6 1.100l-.600 2.900"/><path d="M8.400 12.300l-1.700-.500c-.8-.2-1.400.600-.9 1.300l2.200 3.400"/><path d="M5.900 8.600a3.550 3.550 0 0 1 7.100 0" stroke-width=".85"/><path d="M7.400 8.600a2.050 2.050 0 0 1 4.100 0" stroke-width=".85"/></g></g><g transform="translate(523.1 614.65)"><circle cx="11" cy="11" r="11" fill="#5865f0"/><g fill="none" stroke="#fff" stroke-width="1" stroke-linecap="round" stroke-linejoin="round"><path d="M11.00 4.80L12.99 6.20L15.38 6.62L15.80 9.01L17.20 11.00L15.80 12.99L15.38 15.38L12.99 15.80L11.00 17.20L9.01 15.80L6.62 15.38L6.20 12.99L4.80 11.00L6.20 9.01L6.62 6.62L9.01 6.20z"/><path d="M8.600 11.200l1.700 1.600 3.200-3.300"/></g></g><g transform="translate(667.8 586.2)"><circle cx="11" cy="11" r="11" fill="#1cb9bb"/><g fill="none" stroke="#fff" stroke-width="1" stroke-linecap="round" stroke-linejoin="round"><path d="M5 8.700l3.300 1.900 2.900-4.500 3 4.500 3.400-1.900-1.500 6.500H6.700z"/><path d="M8.300 12.500h5.600"/></g></g><g transform="translate(872.8 604.4)"><circle cx="11" cy="11" r="11" fill="#fb6b50"/><g fill="none" stroke="#fff" stroke-width="1" stroke-linecap="round" stroke-linejoin="round"><path d="M11.300 9.500l1-3.800c.200-.900 1.300-1.300 2-.700.400.300.600.800.400 1.300l-1.100 4.200"/><path d="M6.300 9.300l.4-.9c.300-.600 1-.900 1.700-.600l6.100 2.500c.600.300.900.900.700 1.500l-.2.700z"/><path d="M6.300 9.300c-.800 2.100-.800 4.500.4 7.100M14.900 12.600c-.4 1.200-.5 2.500-.1 3.800"/><path d="M8.900 16.200c-.3-1.200-.2-2.300.3-3.400M11.300 16.200c-.1-.8 0-1.500.3-2.200" stroke-width=".9"/><path d="M6.700 16.500h10.500"/></g></g><g transform="translate(819.65 345)"><g fill="none" stroke="#2a3040" stroke-width="1" stroke-linecap="round"><circle cx="6" cy="6" r="5.200"/><path d="M4.300 4.300l3.400 3.400M7.700 4.300L4.300 7.700"/></g></g><g transform="translate(292 686)"><path d="M2.300 5.700h8.300" stroke="#7f8593" stroke-width="1" stroke-linecap="round"/></g><g transform="translate(345.8 686)"><path d="M2 6h8M6 2v8" stroke="#7f8593" stroke-width="1" stroke-linecap="round"/></g></svg>
<svg class="abs" style="left:0;top:0" width="1120" height="800"><rect x="53.850" y="100.950" width="997.100" height="622.200" rx="14.700" fill="none" stroke="#dcdcdc" stroke-width="1.700"/></svg>
<div class="abs" style="left:622px;top:74.800px;width:412.200px;height:127px;border-radius:17px;background:#ffb906;box-shadow:0 8px 40px 6px rgba(0,0,0,.09)"></div>
<svg class="abs" style="left:0;top:0" width="1120" height="800"><rect x="611.200" y="63.200" width="411.600" height="125.900" rx="17" fill="none" stroke="#0e0e10" stroke-width="1.600"/></svg>
<div style="position:absolute;left:742px;top:106px;font-size:24px;line-height:28.8px;font-weight:400;color:#1c2133;letter-spacing:0.000px;white-space:pre;transform:translate(0.37px,0.16px) scaleX(1.0988) rotate(0.03deg);transform-origin:0 50%;-webkit-text-stroke:.45px #1c2133">Multi-level IVR</div>
<div style="position:absolute;left:652px;top:142px;font-size:24px;line-height:28.8px;font-weight:400;color:#1c2133;letter-spacing:0.110px;white-space:pre;transform:translate(0.75px,0.61px) scaleX(1.1200) rotate(0.03deg);transform-origin:0 50%;-webkit-text-stroke:.45px #1c2133">Automatic and Accurate Flow</div>
</div></body></html>
